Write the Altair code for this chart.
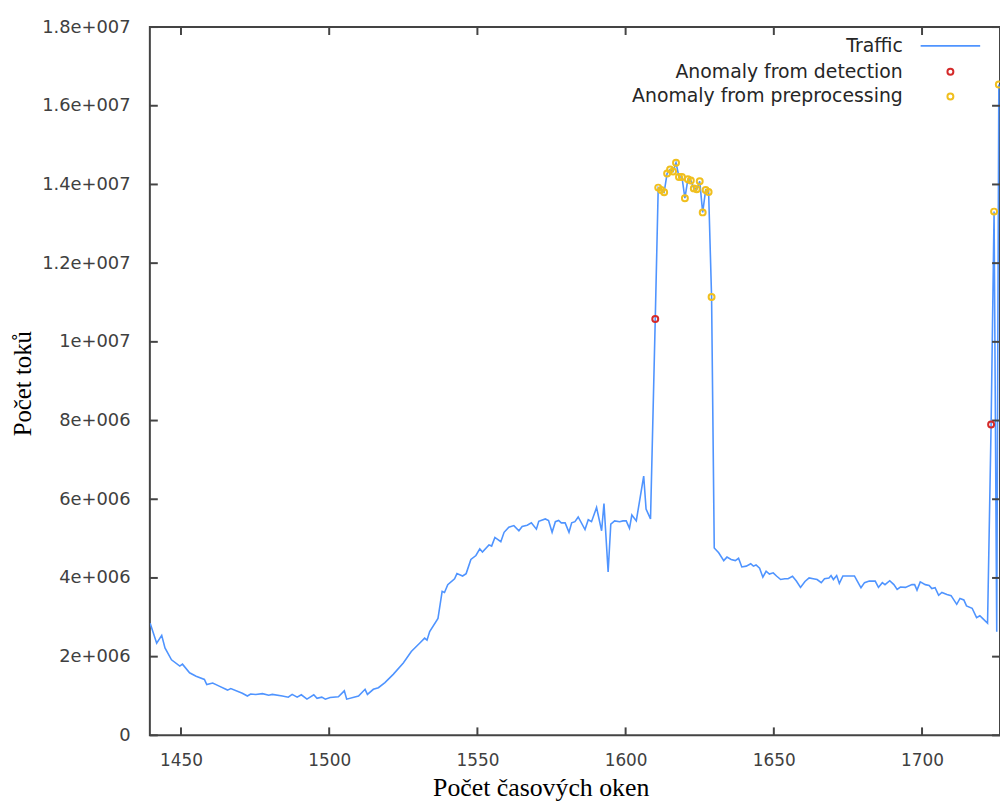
import altair as alt
import pandas as pd

# ---- data ----
traffic_x = [1439.6, 1441.8, 1443.5, 1444.6, 1446.8, 1449.6, 1450.5, 1452.9, 1455.1, 1457.9,
             1458.7, 1460.7, 1462.9, 1465.7, 1466.8, 1470.7, 1472.4, 1473.5, 1475.2, 1477.5,
             1479.6, 1480.8, 1484.2, 1486.2, 1487.5, 1489.2, 1490.6, 1492.5, 1494.8, 1495.9,
             1497.5, 1498.7, 1500.3, 1503.1, 1505.1, 1505.9, 1509.9, 1512.1, 1512.9, 1514.9,
             1516.6, 1518.8, 1521.6, 1525.0, 1527.7, 1530.5, 1532.2, 1533.0, 1533.9, 1536.7,
             1538.1, 1538.9, 1540.0, 1542.3, 1543.1, 1545.0, 1546.2, 1547.8, 1549.5, 1550.8,
             1551.7, 1553.9, 1554.8, 1555.9, 1557.9, 1559.0, 1560.6, 1562.3, 1564.0, 1565.1,
             1566.8, 1568.2, 1569.9, 1570.7, 1572.9, 1574.0, 1575.2, 1576.3, 1577.4, 1578.3,
             1579.6, 1580.9, 1581.8, 1582.9, 1584.0, 1586.3, 1587.4, 1588.5, 1590.2, 1591.9,
             1592.7, 1594.1, 1595.0, 1596.3, 1598.0, 1599.1, 1600.2, 1601.3, 1602.1, 1603.6,
             1606.1, 1606.9, 1608.4, 1610, 1611, 1612, 1613, 1614, 1615, 1616,
             1617, 1618, 1619, 1620, 1621, 1622, 1623, 1624, 1625, 1626,
             1627, 1628, 1629, 1629.9, 1631.4, 1633.1, 1634.2, 1635.6, 1637.0, 1638.1,
             1639.2, 1640.7, 1642.2, 1643.1, 1644.0, 1645.2, 1646.3, 1647.4, 1648.5, 1649.8,
             1650.9, 1652.3, 1653.7, 1654.8, 1656.3, 1657.6, 1659.0, 1660.5, 1661.9, 1663.3,
             1664.6, 1666.0, 1667.1, 1668.6, 1669.3, 1670.1, 1671.2, 1672.1, 1673.3, 1677.2,
             1678.3, 1679.4, 1680.6, 1682.2, 1684.2, 1685.3, 1686.6, 1687.5, 1689.1, 1690.5,
             1691.6, 1692.7, 1694.4, 1696.6, 1697.5, 1698.3, 1699.4, 1701.1, 1702.4, 1703.3,
             1704.4, 1705.6, 1706.7, 1708.4, 1709.8, 1711.7, 1712.8, 1714.1, 1715.0, 1716.9,
             1718.4, 1719.5, 1720.6, 1722.1, 1723.3, 1724.3, 1725.2, 1725.9]
traffic_millions = [2.85, 2.34, 2.54, 2.22, 1.92, 1.76, 1.81, 1.59, 1.50, 1.42,
                    1.29, 1.33, 1.25, 1.15, 1.19, 1.07, 1.00, 1.05, 1.04, 1.06,
                    1.02, 1.04, 1.00, 0.97, 1.04, 0.97, 1.03, 0.92, 1.03, 0.94,
                    0.97, 0.92, 0.96, 0.98, 1.13, 0.92, 1.00, 1.17, 1.04, 1.17,
                    1.21, 1.34, 1.55, 1.84, 2.13, 2.34, 2.47, 2.42, 2.64, 2.97,
                    3.66, 3.63, 3.83, 3.98, 4.11, 4.05, 4.11, 4.47, 4.57, 4.74,
                    4.66, 4.84, 4.81, 5.03, 4.92, 5.16, 5.29, 5.33, 5.20, 5.31,
                    5.34, 5.40, 5.24, 5.44, 5.50, 5.46, 5.16, 5.43, 5.46, 5.40,
                    5.40, 5.16, 5.40, 5.43, 5.55, 5.23, 5.48, 5.43, 5.79, 5.20,
                    5.89, 4.15, 5.37, 5.45, 5.43, 5.45, 5.45, 5.26, 5.60, 5.45,
                    6.59, 5.75, 5.50, 10.58, 13.92, 13.86, 13.80, 14.28, 14.38, 14.33,
                    14.55, 14.19, 14.19, 13.65, 14.13, 14.10, 13.90, 13.88, 14.08, 13.29,
                    13.86, 13.81, 11.14, 4.76, 4.64, 4.44, 4.53, 4.47, 4.44, 4.50,
                    4.28, 4.30, 4.36, 4.30, 4.33, 4.25, 4.02, 4.17, 4.10, 4.13,
                    4.05, 3.96, 3.98, 3.98, 4.04, 3.92, 3.76, 3.91, 4.00, 3.98,
                    3.96, 3.88, 3.98, 4.00, 4.06, 3.96, 4.06, 3.86, 4.05, 4.05,
                    3.90, 3.75, 3.88, 3.92, 3.92, 3.76, 3.88, 3.83, 3.93, 3.83,
                    3.71, 3.77, 3.76, 3.83, 3.83, 3.69, 3.90, 3.83, 3.81, 3.73,
                    3.75, 3.56, 3.63, 3.58, 3.55, 3.33, 3.48, 3.44, 3.29, 3.23,
                    2.99, 3.04, 2.96, 2.85, 7.90, 13.31, 2.63, 16.54]

detection_x = [1610, 1723.3]
detection_millions = [10.58, 7.90]

preprocessing_x = [1611, 1612, 1613, 1614, 1615, 1616, 1617, 1618, 1619, 1620,
                   1621, 1622, 1623, 1624, 1625, 1626, 1627, 1628, 1629, 1724.3, 1725.9]
preprocessing_millions = [13.92, 13.86, 13.80, 14.28, 14.38, 14.33, 14.55, 14.19, 14.19, 13.65,
                          14.13, 14.10, 13.90, 13.88, 14.08, 13.29, 13.86, 13.81, 11.14, 13.31, 16.54]

legend_labels = ["Traffic", "Anomaly from detection", "Anomaly from preprocessing"]

x_tick_values = [1450, 1500, 1550, 1600, 1650, 1700]
y_tick_values = [0, 2000000, 4000000, 6000000, 8000000, 10000000,
                 12000000, 14000000, 16000000, 18000000]
y_tick_labels = ["0", "2e+006", "4e+006", "6e+006", "8e+006", "1e+007",
                 "1.2e+007", "1.4e+007", "1.6e+007", "1.8e+007"]

X_DOMAIN = [1439.5, 1726.3]
Y_DOMAIN = [0, 18000000]

# ---- styling ----
W, H = 857, 714
LINE_COLOR = "#4f94ff"
RED = "#d42a2a"
YELLOW = "#f0bf1e"
FRAME = "#444444"
TICK_LEN = 8
SANS = "DejaVu Sans"
SERIF = "Liberation Serif"

traffic_df = pd.DataFrame({"x": traffic_x, "y": [v * 1e6 for v in traffic_millions]})
det_df = pd.DataFrame({"x": detection_x, "y": [v * 1e6 for v in detection_millions]})
pre_df = pd.DataFrame({"x": preprocessing_x, "y": [v * 1e6 for v in preprocessing_millions]})
xt_df = pd.DataFrame({"x": x_tick_values})
yt_df = pd.DataFrame({"y": y_tick_values})

label_expr = " : ".join(f"datum.value == {v} ? '{l}'" for v, l in zip(y_tick_values, y_tick_labels)) + " : ''"

x_scale = alt.Scale(domain=X_DOMAIN, nice=False, zero=False)
y_scale = alt.Scale(domain=Y_DOMAIN, nice=False, zero=False)

x_axis = alt.Axis(values=x_tick_values, format="d", ticks=False, tickSize=0, domain=False, grid=False,
                  labelFont=SANS, labelFontSize=17, labelColor="#404040",
                  labelPadding=17, labelFlush=False,
                  title="Počet časových oken", titleFont=SERIF, titleFontSize=26,
                  titleFontWeight="normal", titleColor="#000000",
                  titleX=394, titleY=53, titleAlign="center", titleBaseline="middle")
y_axis = alt.Axis(values=y_tick_values, ticks=False, tickSize=0, domain=False, grid=False,
                  labelExpr=label_expr,
                  labelFont=SANS, labelFontSize=18, labelColor="#404040",
                  labelPadding=20,
                  title="Počet toků", titleFont=SERIF, titleFontSize=25,
                  titleFontWeight="normal", titleColor="#000000",
                  titleX=-128, titleY=359, titleAlign="center", titleBaseline="middle",
                  titleAngle=270)

X = alt.X("x:Q", scale=x_scale, axis=x_axis)
Y = alt.Y("y:Q", scale=y_scale, axis=y_axis)

line = alt.Chart(traffic_df).mark_line(color=LINE_COLOR, strokeWidth=1.6, clip=True).encode(x=X, y=Y)
det = alt.Chart(det_df).mark_point(shape="circle", filled=False, color=RED, size=36,
                                   strokeWidth=2, clip=True, opacity=1).encode(x=X, y=Y)
pre = alt.Chart(pre_df).mark_point(shape="circle", filled=False, color=YELLOW, size=36,
                                   strokeWidth=2, clip=True, opacity=1).encode(x=X, y=Y)

tick_style = dict(color=FRAME, strokeWidth=2)
ticks_bottom = alt.Chart(xt_df).mark_rule(**tick_style).encode(
    x=X, y=alt.value(H), y2=alt.value(H - TICK_LEN))
ticks_top = alt.Chart(xt_df).mark_rule(**tick_style).encode(
    x=X, y=alt.value(0), y2=alt.value(TICK_LEN))
ticks_left = alt.Chart(yt_df).mark_rule(**tick_style).encode(
    y=Y, x=alt.value(0), x2=alt.value(TICK_LEN))
ticks_right = alt.Chart(yt_df).mark_rule(**tick_style).encode(
    y=Y, x=alt.value(W), x2=alt.value(W - TICK_LEN))

# ---- key (gnuplot style: text then symbol) ----
LEG_TEXT_X = 759
LEG_Y = [19, 45, 70]
legend_layers = []
for lbl, yy in zip(legend_labels, LEG_Y):
    legend_layers.append(
        alt.Chart(pd.DataFrame({"label": [lbl]})).mark_text(
            align="right", baseline="middle", font=SANS, fontSize=19,
            color="#262626").encode(x=alt.value(LEG_TEXT_X), y=alt.value(yy), text="label:N"))
legend_layers.append(
    alt.Chart(pd.DataFrame({"label": [legend_labels[0]]})).mark_rule(
        color=LINE_COLOR, strokeWidth=1.6).encode(
        x=alt.value(777), x2=alt.value(837), y=alt.value(LEG_Y[0])))
legend_layers.append(
    alt.Chart(pd.DataFrame({"label": [legend_labels[1]]})).mark_point(
        shape="circle", filled=False, color=RED, size=36, strokeWidth=2, opacity=1).encode(
        x=alt.value(807), y=alt.value(LEG_Y[1])))
legend_layers.append(
    alt.Chart(pd.DataFrame({"label": [legend_labels[2]]})).mark_point(
        shape="circle", filled=False, color=YELLOW, size=36, strokeWidth=2, opacity=1).encode(
        x=alt.value(807), y=alt.value(LEG_Y[2])))

chart = alt.layer(line, ticks_bottom, ticks_top, ticks_left, ticks_right, det, pre,
                  *legend_layers).properties(
    width=W, height=H,
    autosize=alt.AutoSizeParams(type="none"),
    padding={"left": 143, "top": 16, "right": 0, "bottom": 66},
).configure_view(stroke=FRAME, strokeWidth=2)

chart.save("out.html", embed_options={"renderer": "svg", "actions": False})
